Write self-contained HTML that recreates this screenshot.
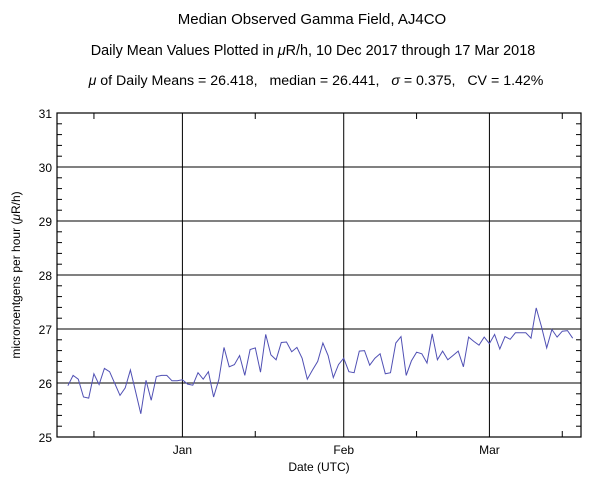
<!DOCTYPE html>
<html><head><meta charset="utf-8"><style>
body{margin:0;background:#fff}
svg text{font-family:"Liberation Sans",Arial,sans-serif;fill:#000}
</style></head><body>
<svg id="chart" width="600" height="496" xmlns="http://www.w3.org/2000/svg">
<rect width="600" height="496" fill="#fff"/>
<text x="312" y="24" font-size="15" text-anchor="middle">Median Observed Gamma Field, AJ4CO</text>
<text x="313" y="55" font-size="14.4" text-anchor="middle">Daily Mean Values Plotted in <tspan font-style="italic">μ</tspan>R/h, 10 Dec 2017 through 17 Mar 2018</text>
<text x="316" y="85" font-size="14.2" text-anchor="middle" xml:space="preserve"><tspan font-style="italic">μ</tspan> of Daily Means = 26.418,   median = 26.441,   <tspan font-style="italic">σ</tspan> = 0.375,   CV = 1.42%</text>
<g id="axes"></g>
<text x="319" y="471" font-size="12" text-anchor="middle">Date (UTC)</text>
<text x="0" y="0" font-size="12" text-anchor="middle" transform="translate(20,275) rotate(-90)">microroentgens per hour (<tspan font-style="italic">μ</tspan>R/h)</text>
</svg>
<script>
const startDay = -22; // 10 Dec relative to 1 Jan
const values = [25.95,26.14,26.07,25.74,25.72,26.17,25.97,26.27,26.21,25.99,25.77,25.91,26.24,25.84,25.43,26.05,25.68,26.12,26.14,26.14,26.04,26.04,26.06,25.98,25.96,26.19,26.07,26.21,25.74,26.06,26.66,26.30,26.34,26.51,26.14,26.62,26.65,26.20,26.90,26.52,26.43,26.75,26.76,26.58,26.66,26.46,26.07,26.24,26.40,26.74,26.51,
26.10,26.34,26.46,26.21,26.19,26.59,26.60,26.33,26.46,26.54,26.17,26.19,26.74,26.86,26.14,26.41,26.57,26.54,26.37,26.91,26.43,26.59,26.43,26.51,26.59,26.30,26.85,26.77,26.70,26.85,26.73,26.90,26.63,26.86,26.81,26.93,26.93,26.93,26.83,27.39,27.04,26.65,26.99,26.85,26.96,26.97,26.83];
const yTicks = [25,26,27,28,29,30,31];
const monthLabels = ["Jan","Feb","Mar"];
const monthDays = [0,31,59];
const minorDays = [-17,14,45,73];
const L=57,R=581,T=113,B=437;
const dMin=-24.1,dMax=76.6,yMin=25,yMax=31;
const xs=d=>L+(d-dMin)/(dMax-dMin)*(R-L);
const ys=v=>B-(v-yMin)/(yMax-yMin)*(B-T);
const NS="http://www.w3.org/2000/svg";
const g=document.getElementById('axes');
function mk(tag,attrs){const e=document.createElementNS(NS,tag);for(const k in attrs)e.setAttribute(k,attrs[k]);g.appendChild(e);return e;}
yTicks.forEach(v=>{
  const y=ys(v);
  const ln=mk('line',{x1:L,x2:R,y1:y,y2:y,stroke:'#000','stroke-width':1});
  
  
  const t=mk('text',{x:L-5,y:y+5,'font-size':12,'text-anchor':'end'});
  t.textContent=v;
  
  
});
for(let v=yMin;v<yMax-0.01;v+=0.2){
  const y=ys(v);
  const a=mk('line',{x1:L,x2:L+5,y1:y,y2:y,stroke:'#000'});
  
  
  const b=mk('line',{x1:R-5,x2:R,y1:y,y2:y,stroke:'#000'});
  
  
}
monthDays.forEach((d,i)=>{
  const x=xs(d);
  const ln=mk('line',{x1:x,x2:x,y1:T,y2:B,stroke:'#000'});
  
  
  const t=mk('text',{x:x,y:B+17,'font-size':12,'text-anchor':'middle'});
  t.textContent=monthLabels[i];
  
  
});
minorDays.forEach(d=>{
  const x=xs(d);
  const a=mk('line',{x1:x,x2:x,y1:B-6,y2:B,stroke:'#000'});
  
  
  const b=mk('line',{x1:x,x2:x,y1:T,y2:T+6,stroke:'#000'});
  
  
});
const fr=mk('rect',{x:L,y:T,width:R-L,height:B-T,fill:'none',stroke:'#000','stroke-width':1.2});


const pts=values.map((v,i)=>xs(startDay+i).toFixed(1)+','+ys(v).toFixed(1)).join(' ');
const pl=mk('polyline',{points:pts,fill:'none',stroke:'#5050b4','stroke-width':1});


</script>
</body></html>
